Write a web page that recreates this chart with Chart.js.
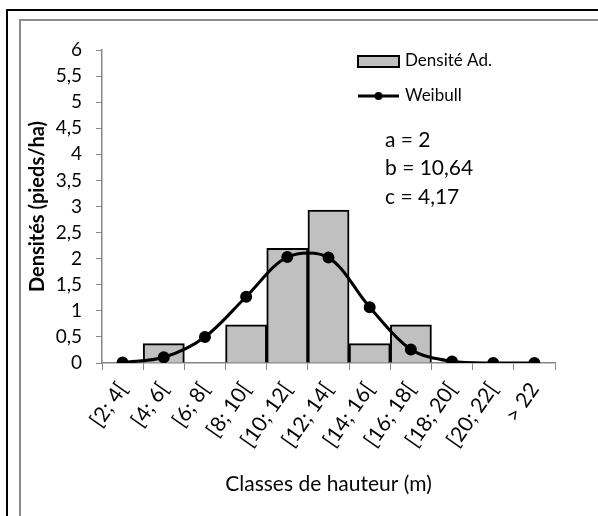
<!DOCTYPE html>
<html>
<head>
<meta charset="utf-8">
<script src="https://cdn.jsdelivr.net/npm/chart.js@4/dist/chart.umd.min.js"></script>
<style>
  html, body { margin: 0; padding: 0; background: #fff; }
  #wrap { position: relative; width: 598px; height: 516px; overflow: hidden; }
  #outer { position: absolute; left: 6px; top: 9px; width: 600px; height: 520px;
           border-top: 2px solid #000; border-left: 2px solid #000; }
  #inner { position: absolute; left: 19px; top: 19px; width: 600px; height: 520px;
           border-top: 2px solid #8c8c8c; border-left: 2px solid #8c8c8c; }
  #box { position: absolute; left: 0; top: 0; width: 598px; height: 516px; }
</style>
</head>
<body>
<div id="wrap">
  <div id="outer"></div>
  <div id="inner"></div>
  <div id="box"><canvas id="densChart"></canvas></div>
</div>
<script>
// ---------------- Data ----------------
const classes = ["[2; 4[", "[4; 6[", "[6; 8[", "[8; 10[", "[10; 12[", "[12; 14[",
                 "[14; 16[", "[16; 18[", "[18; 20[", "[20; 22[", "> 22"];
const densiteAd = [0, 0.37, 0, 0.73, 2.2, 2.93, 0.37, 0.73, 0, 0, 0];
const weibull = [0.01, 0.11, 0.5, 1.27, 2.03, 2.02, 1.07, 0.26, 0.03, 0, 0];
const yTicks = [0, 0.5, 1, 1.5, 2, 2.5, 3, 3.5, 4, 4.5, 5, 5.5, 6];
const params = ["a = 2", "b = 10,64", "c = 4,17"];

const FONT = "Lato, 'Open Sans', sans-serif";
const AXIS_GREY = "#868686";
const TEXT = "#050505";

// legend + parameter text drawn inside the plot
const sideText = {
  id: "sideText",
  afterDraw(chart) {
    const ctx = chart.ctx;
    ctx.save();
    // bar swatch
    ctx.fillStyle = "#c0c0c0";
    ctx.fillRect(358, 56, 41, 11);
    ctx.strokeStyle = "#000";
    ctx.lineWidth = 2;
    ctx.strokeRect(358, 56, 41, 11);
    // line swatch
    ctx.lineWidth = 3;
    ctx.beginPath();
    ctx.moveTo(358, 96);
    ctx.lineTo(399, 96);
    ctx.stroke();
    ctx.beginPath();
    ctx.arc(378.5, 96, 4, 0, Math.PI * 2);
    ctx.fillStyle = "#000";
    ctx.fill();

    ctx.fillStyle = TEXT;
    ctx.textBaseline = "middle";
    ctx.textAlign = "left";
    ctx.font = "17px " + FONT;
    ctx.fillText("Densité Ad.", 405, 61);
    ctx.fillText("Weibull", 405, 96);

    ctx.font = "21px " + FONT;
    params.forEach((p, i) => ctx.fillText(p, 385, 140 + i * 28.5));
    ctx.restore();
  },
};

const ctx = document.getElementById("densChart").getContext("2d");
new Chart(ctx, {
  data: {
    labels: classes,
    datasets: [
      {
        type: "line",
        label: "Weibull",
        data: weibull,
        borderColor: "#000",
        backgroundColor: "#000",
        borderWidth: 3,
        pointRadius: 4.5,
        pointBackgroundColor: "#000",
        tension: 0.33,
        order: 1,
      },
      {
        type: "bar",
        label: "Densité Ad.",
        data: densiteAd,
        backgroundColor: "#c0c0c0",
        borderColor: "#000",
        borderWidth: 2,
        categoryPercentage: 1,
        barPercentage: 1,
        order: 2,
      },
    ],
  },
  options: {
    responsive: true,
    maintainAspectRatio: false,
    animation: false,
    layout: { padding: { left: 20, right: 43, top: 50, bottom: 17 } },
    plugins: {
      legend: { display: false },
      tooltip: { enabled: false },
    },
    scales: {
      x: {
        offset: true,
        grid: { display: true, offset: true, drawOnChartArea: false, drawTicks: true,
                tickLength: 7, color: AXIS_GREY },
        border: { color: AXIS_GREY, width: 1.5 },
        ticks: { color: TEXT, font: { family: FONT, size: 21 }, minRotation: 55,
                 maxRotation: 55, autoSkip: false, padding: 8 },
        title: { display: true, text: "Classes de hauteur (m)", color: TEXT,
                 font: { family: FONT, size: 21 }, padding: { top: 0, bottom: 2 } },
        afterFit: (s) => { s.height = 136; },
      },
      y: {
        min: 0,
        max: 6,
        afterBuildTicks: (s) => { s.ticks = yTicks.map((v) => ({ value: v })); },
        grid: { display: true, drawOnChartArea: false, drawTicks: true, tickLength: 6,
                color: AXIS_GREY },
        border: { color: AXIS_GREY, width: 1.5 },
        ticks: { color: TEXT, font: { family: FONT, size: 19 }, padding: 14,
                 callback: (v) => String(v).replace(".", ",") },
        title: { display: true, text: "Densités (pieds/ha)", color: TEXT,
                 font: { family: FONT, size: 20, weight: "bold" }, padding: { top: 6, bottom: 0 } },
        afterFit: (s) => { s.width = 82; },
      },
    },
  },
  plugins: [sideText],
});
</script>
</body>
</html>
